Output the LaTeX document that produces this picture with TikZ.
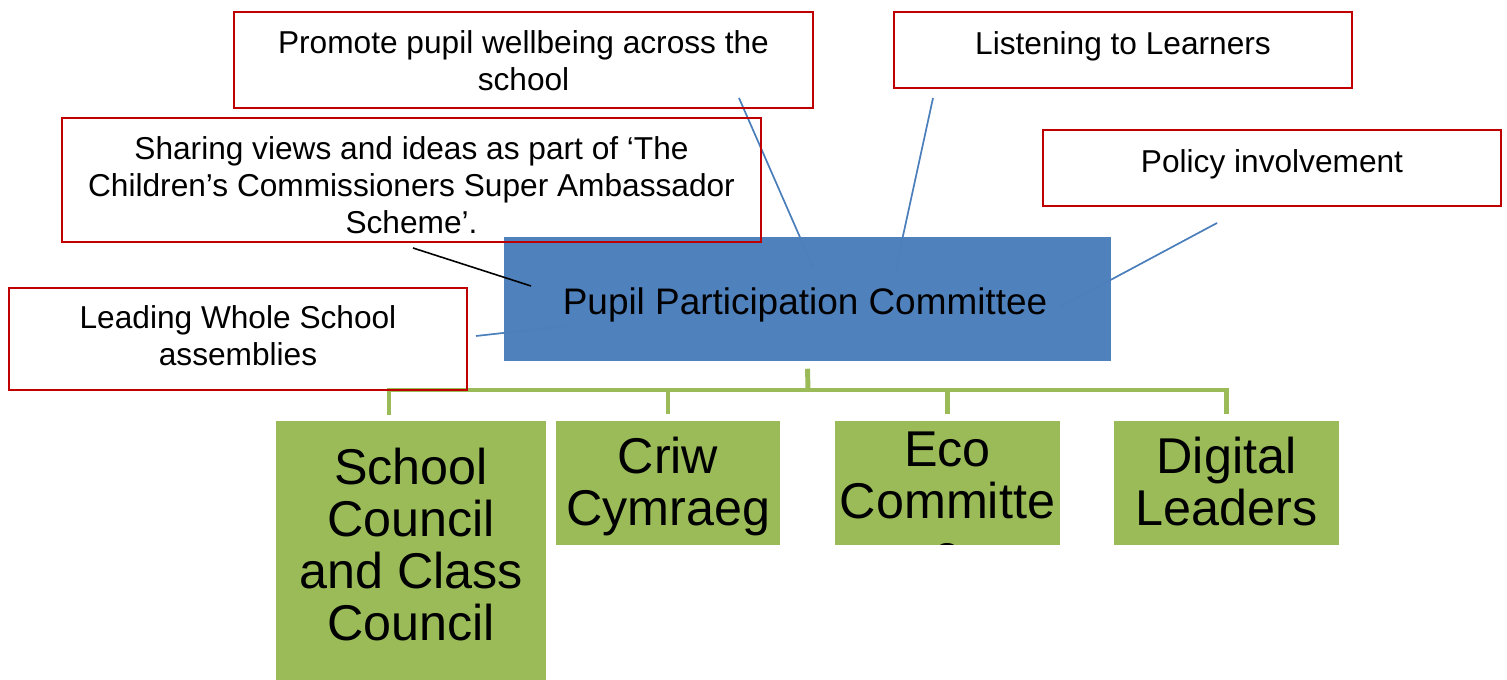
\documentclass[tikz,border=0pt]{standalone}
\usepackage{fontspec}
\setmainfont{Liberation Sans}
\definecolor{calloutred}{RGB}{192,0,0}
\definecolor{ppblue}{RGB}{79,129,189}
\definecolor{lineblue}{RGB}{74,126,187}
\definecolor{leafgreen}{RGB}{155,187,89}
\newcommand\tightlines{\lineskiplimit -10pt\relax}
\begin{document}
\begin{tikzpicture}[x=0.01cm,y=-0.01cm,
  callout/.style={draw=calloutred, line width=0.6pt, inner sep=0pt},
  ctext/.style={font=\fontsize{9}{10.5}\selectfont\tightlines, align=center, inner sep=0pt},
  mainbox/.style={fill=ppblue, draw=none, inner sep=0pt, minimum width=6.07cm, minimum height=1.24cm},
  leaf/.style={fill=leafgreen, draw=white, line width=0.3pt, inner sep=0pt},
  leaftext/.style={font=\fontsize{14.3}{14.8}\selectfont\tightlines, align=center, inner sep=0pt},
  bluelink/.style={draw=lineblue, line width=0.45pt},
  treelink/.style={draw=leafgreen, line width=1.4pt}
]
\useasboundingbox (0,0) rectangle (1507,680);

% anchor coordinates for the links
\coordinate (promoteEnd) at (739,98);
\coordinate (promoteIn) at (813,267);
\coordinate (listenEnd) at (933,98);
\coordinate (listenIn) at (896,268);
\coordinate (policyEnd) at (1217,223);
\coordinate (policyIn) at (1060,307);
\coordinate (leadingEnd) at (476,336);
\coordinate (leadingIn) at (566,326);
\coordinate (sharingEnd) at (413,248);
\coordinate (sharingIn) at (531,286);

% blue links (beneath the box)
\draw[bluelink] (promoteEnd) -- (promoteIn);
\draw[bluelink] (listenEnd) -- (listenIn);
\draw[bluelink] (policyEnd) -- (policyIn);
\draw[bluelink] (leadingEnd) -- (leadingIn);

% main box
\node[mainbox] (pp) at (807.5,299) {};
\node[font=\fontsize{10.5}{12}\selectfont, inner sep=0pt] (pptext) at (805,306.5) {\strut Pupil Participation Committee};

% faint parts of the links over the box
\draw[bluelink, opacity=0.4] (promoteEnd) -- (promoteIn);
\draw[bluelink, opacity=0.4] (listenEnd) -- (listenIn);
\draw[bluelink, opacity=0.4] (policyEnd) -- (policyIn);
\draw[bluelink, opacity=0.4] (leadingEnd) -- (leadingIn);
\draw[black, line width=0.45pt] (sharingEnd) -- (sharingIn);

% green boxes
\node[leaf, minimum width=2.70cm, minimum height=2.79cm] (school) at (411,560.5) {};
\node[leaf, minimum width=2.24cm, minimum height=1.24cm] (criw) at (668,483) {};
\node[leaf, minimum width=2.25cm, minimum height=1.24cm] (eco) at (947.5,483) {};
\node[leaf, minimum width=2.25cm, minimum height=1.24cm] (digital) at (1226.5,483) {};

\node[leaftext] (schooltext) at (411,552) {\strut School\\\strut Council\\\strut and Class\\\strut Council};
\node[leaftext] (criwtext) at (668,489.5) {\strut Criw\\\strut Cymraeg};
\begin{scope}
  \clip (835,421) rectangle (1060,545);
  \node[leaftext] (ecotext) at (947.5,508) {\strut Eco\\\strut Committe\\\strut e};
\end{scope}
\node[leaftext] (digitaltext) at (1226.5,489.5) {\strut Digital\\\strut Leaders};

% tree connectors
\coordinate (bus) at (808,390);
\coordinate (schooltop) at (389,415);
\draw[treelink] ([yshift=-0.07cm]pp.south) -- (bus);
\draw[treelink] (bus) -| (schooltop);
\draw[treelink] (bus) -| ([yshift=0.06cm]criw.north);
\draw[treelink] (bus) -| ([yshift=0.06cm]eco.north);
\draw[treelink] (bus) -| ([yshift=0.06cm]digital.north);

% callouts
\node[callout, minimum width=5.79cm, minimum height=0.96cm] (promote) at (523.5,60) {};
\node[ctext] at (523.5,65) {\strut Promote pupil wellbeing across the\\\strut school};
\node[callout, minimum width=4.58cm, minimum height=0.76cm] (listen) at (1123,50) {};
\node[ctext] at (1123,47.5) {\strut Listening to Learners};
\node[callout, minimum width=6.99cm, minimum height=1.24cm] (sharing) at (411.5,180) {};
\node[ctext] at (411.5,189.5) {\strut Sharing views and ideas as part of ‘The\\\strut Children’s Commissioners Super Ambassador\\\strut Scheme’.};
\node[callout, minimum width=4.58cm, minimum height=0.76cm] (policy) at (1272,168) {};
\node[ctext] at (1272,165.5) {\strut Policy involvement};
\node[callout, minimum width=4.58cm, minimum height=1.02cm] (leading) at (238,339) {};
\node[ctext] at (238,340) {\strut Leading Whole School\\\strut assemblies};
\end{tikzpicture}
\end{document}
